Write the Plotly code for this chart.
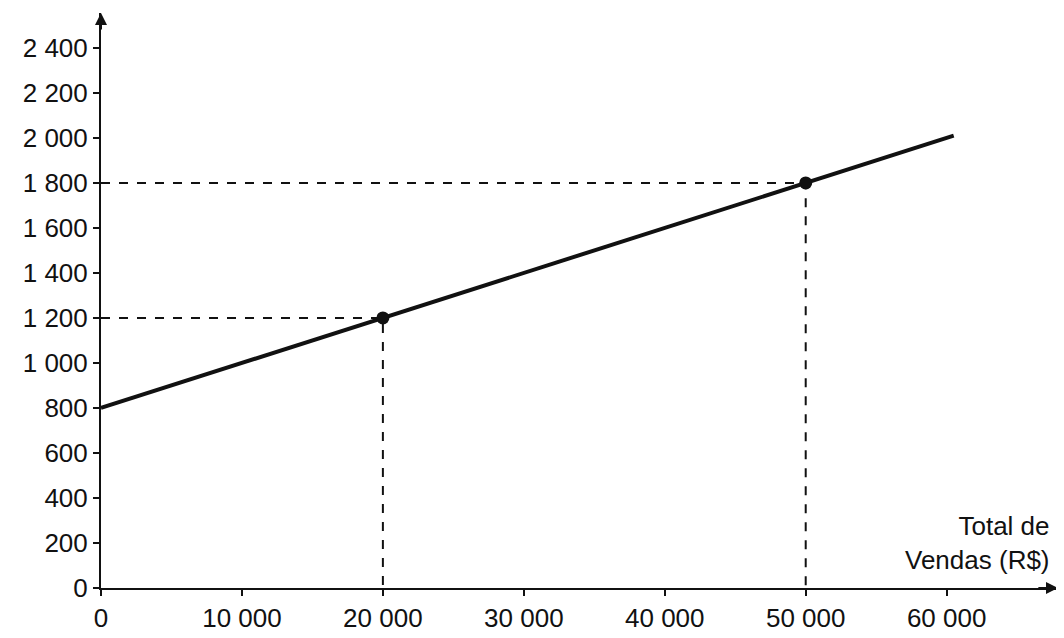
import plotly.graph_objects as go

line_x = [0, 60500]
line_y = [800, 2010]
pts_x = [20000, 50000]
pts_y = [1200, 1800]
x_ticks = [0, 10000, 20000, 30000, 40000, 50000, 60000]
x_labels = ["0", "10 000", "20 000", "30 000", "40 000", "50 000", "60 000"]
y_ticks = [0, 200, 400, 600, 800, 1000, 1200, 1400, 1600, 1800, 2000, 2200, 2400]
y_labels = ["0", "200", "400", "600", "800", "1 000", "1 200", "1 400", "1 600", "1 800", "2 000", "2 200", "2 400"]

XMAX, YMAX = 67900, 2555
font = dict(family="Liberation Sans, Arial", size=26, color="#111")

fig = go.Figure()
for px, py in zip(pts_x, pts_y):
    fig.add_trace(go.Scatter(x=[0, px, px], y=[py, py, 0], mode="lines",
                             line=dict(color="#111", width=2, dash="dash"), hoverinfo="skip"))
fig.add_trace(go.Scatter(x=line_x, y=line_y, mode="lines", line=dict(color="#111", width=4)))
fig.add_trace(go.Scatter(x=pts_x, y=pts_y, mode="markers", marker=dict(color="#111", size=13)))

axis_common = dict(showgrid=False, zeroline=False, showline=True, linecolor="#111", linewidth=2,
                   ticks="outside", ticklen=6, tickcolor="#111", tickwidth=2, tickfont=font,
                   tickmode="array", automargin=False)
fig.update_xaxes(range=[0, XMAX], tickvals=x_ticks, ticktext=x_labels, **axis_common)
fig.update_yaxes(range=[0, YMAX], tickvals=y_ticks, ticktext=y_labels, **axis_common)

fig.add_annotation(x=XMAX, y=0, ax=XMAX - 1500, ay=0, axref="x", ayref="y", xref="x", yref="y",
                   showarrow=True, arrowhead=2, arrowsize=1.2, arrowwidth=2, arrowcolor="#111", text="")
fig.add_annotation(x=0, y=YMAX, ax=0, ay=YMAX - 80, axref="x", ayref="y", xref="x", yref="y",
                   showarrow=True, arrowhead=2, arrowsize=1.2, arrowwidth=2, arrowcolor="#111", text="")
fig.add_annotation(x=800, y=YMAX + 40, xref="x", yref="y", text="Salário (R$)", showarrow=False,
                   xanchor="left", yanchor="top", font=font)
fig.add_annotation(x=XMAX - 400, y=50, xref="x", yref="y", text="Total de<br>Vendas (R$)",
                   showarrow=False, xanchor="right", yanchor="bottom", align="right", font=font)

fig.update_layout(width=1064, height=638, showlegend=False, plot_bgcolor="white", paper_bgcolor="white",
                  margin=dict(l=93, r=14, t=5, b=58))
fig.write_html("out.html")
